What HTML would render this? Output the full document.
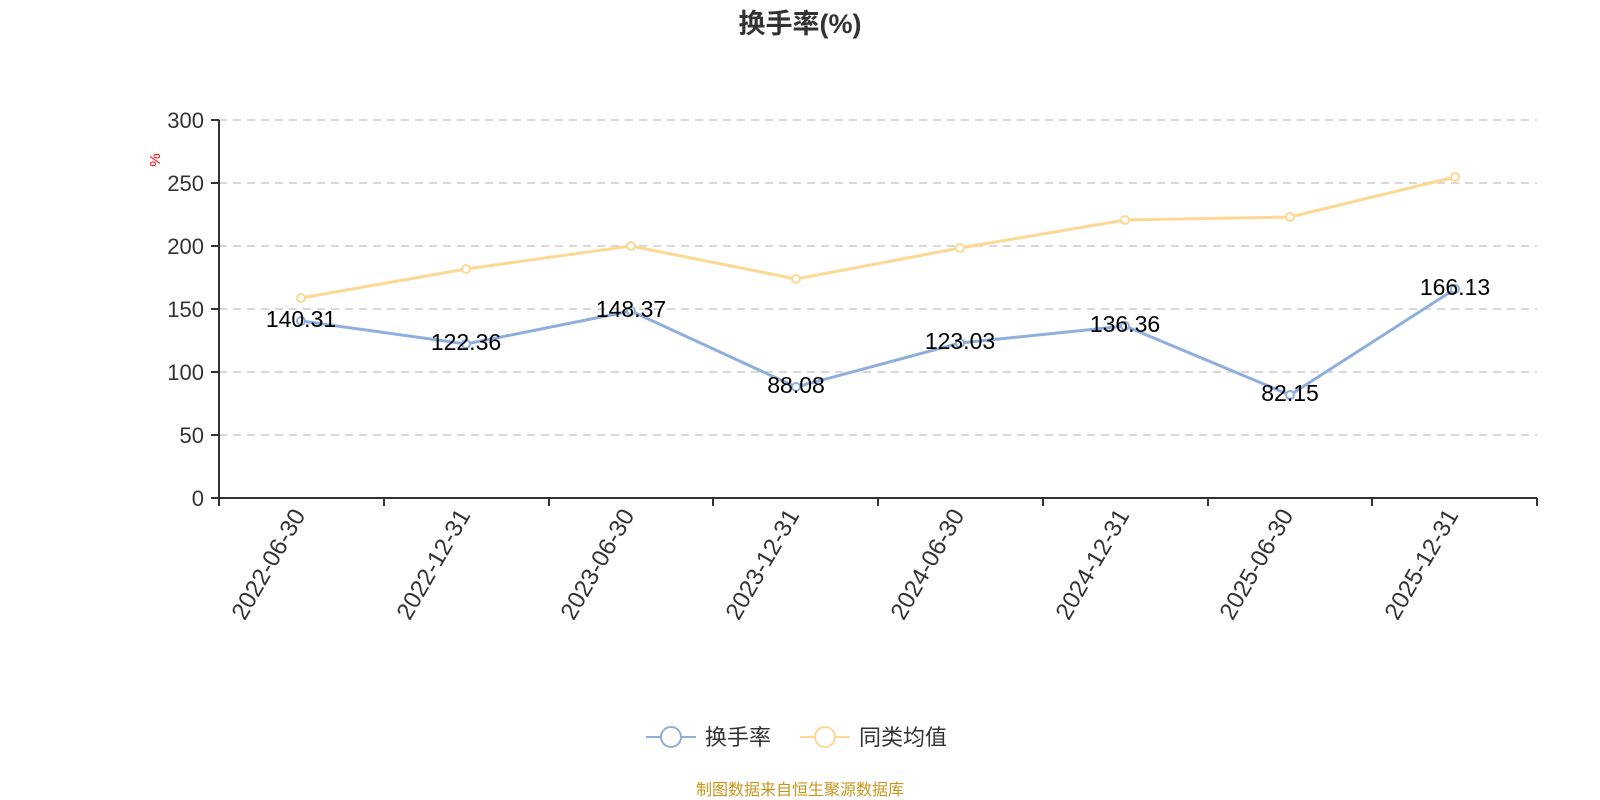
<!DOCTYPE html><html><head><meta charset="utf-8"><style>body{margin:0;background:#fff}svg{display:block}text{font-family:"Liberation Sans","Noto Sans CJK SC",sans-serif}</style></head><body>
<svg width="1600" height="800" viewBox="0 0 1600 800">
<text x="800" y="33" text-anchor="middle" font-size="27" font-weight="bold" fill="#333">换手率(%)</text>
<g stroke="#ccc" stroke-width="1.5" stroke-dasharray="8,6">
<line x1="219" x2="1537" y1="120" y2="120"/><line x1="219" x2="1537" y1="183" y2="183"/><line x1="219" x2="1537" y1="246" y2="246"/><line x1="219" x2="1537" y1="309" y2="309"/><line x1="219" x2="1537" y1="372" y2="372"/><line x1="219" x2="1537" y1="435" y2="435"/></g>
<g stroke="#333" stroke-width="2"><line x1="219" y1="120" x2="219" y2="498"/><line x1="219" y1="498" x2="1537" y2="498"/>
<line x1="211" x2="219" y1="120" y2="120"/><line x1="211" x2="219" y1="183" y2="183"/><line x1="211" x2="219" y1="246" y2="246"/><line x1="211" x2="219" y1="309" y2="309"/><line x1="211" x2="219" y1="372" y2="372"/><line x1="211" x2="219" y1="435" y2="435"/><line x1="211" x2="219" y1="498" y2="498"/>
<line x1="219" x2="219" y1="498" y2="506"/><line x1="384" x2="384" y1="498" y2="506"/><line x1="549" x2="549" y1="498" y2="506"/><line x1="713" x2="713" y1="498" y2="506"/><line x1="878" x2="878" y1="498" y2="506"/><line x1="1043" x2="1043" y1="498" y2="506"/><line x1="1208" x2="1208" y1="498" y2="506"/><line x1="1372" x2="1372" y1="498" y2="506"/><line x1="1537" x2="1537" y1="498" y2="506"/></g>
<g font-size="22" fill="#333" text-anchor="end"><text x="204" y="128">300</text><text x="204" y="191">250</text><text x="204" y="254">200</text><text x="204" y="317">150</text><text x="204" y="380">100</text><text x="204" y="443">50</text><text x="204" y="506">0</text></g>
<text x="162" y="162" font-size="15" fill="red" transform="rotate(-90 160 162)" text-anchor="middle">%</text>
<g font-size="24" fill="#333" text-anchor="end">
<text transform="translate(306,515) rotate(-60)">2022-06-30</text>
<text transform="translate(471,515) rotate(-60)">2022-12-31</text>
<text transform="translate(635,515) rotate(-60)">2023-06-30</text>
<text transform="translate(800,515) rotate(-60)">2023-12-31</text>
<text transform="translate(965,515) rotate(-60)">2024-06-30</text>
<text transform="translate(1130,515) rotate(-60)">2024-12-31</text>
<text transform="translate(1294,515) rotate(-60)">2025-06-30</text>
<text transform="translate(1459,515) rotate(-60)">2025-12-31</text></g>
<polyline fill="none" stroke="#fdd893" stroke-width="3" points="301,298 466,269 631,246 796,279 960,248 1125,220 1290,217 1455,177"/>
<g fill="#fff" stroke="#fdd893" stroke-width="2"><circle cx="301" cy="298" r="4"/><circle cx="466" cy="269" r="4"/><circle cx="631" cy="246" r="4"/><circle cx="796" cy="279" r="4"/><circle cx="960" cy="248" r="4"/><circle cx="1125" cy="220" r="4"/><circle cx="1290" cy="217" r="4"/><circle cx="1455" cy="177" r="4"/></g>
<polyline fill="none" stroke="#8eaedb" stroke-width="3" points="301,321 466,344 631,311 796,387 960,343 1125,326 1290,395 1455,289"/>
<g fill="#fff" stroke="#8eaedb" stroke-width="2"><circle cx="301" cy="321" r="4"/><circle cx="466" cy="344" r="4"/><circle cx="631" cy="311" r="4"/><circle cx="796" cy="387" r="4"/><circle cx="960" cy="343" r="4"/><circle cx="1125" cy="326" r="4"/><circle cx="1290" cy="395" r="4"/><circle cx="1455" cy="289" r="4"/></g>
<g font-size="23" fill="#000" text-anchor="middle"><text x="301" y="327">140.31</text><text x="466" y="350">122.36</text><text x="631" y="317">148.37</text><text x="796" y="393">88.08</text><text x="960" y="349">123.03</text><text x="1125" y="332">136.36</text><text x="1290" y="401">82.15</text><text x="1455" y="295">166.13</text></g>
<line x1="646" x2="696" y1="737" y2="737" stroke="#8eaedb" stroke-width="2"/><circle cx="671" cy="737" r="10" fill="#fff" stroke="#8eaedb" stroke-width="2"/>
<text x="705" y="745" font-size="22" fill="#333">换手率</text>
<line x1="800" x2="850" y1="737" y2="737" stroke="#fdd893" stroke-width="2"/><circle cx="825" cy="737" r="10" fill="#fff" stroke="#fdd893" stroke-width="2"/>
<text x="859" y="745" font-size="22" fill="#333">同类均值</text>
<text x="800" y="795" font-size="16" fill="#c8961e" text-anchor="middle">制图数据来自恒生聚源数据库</text>
</svg></body></html>
